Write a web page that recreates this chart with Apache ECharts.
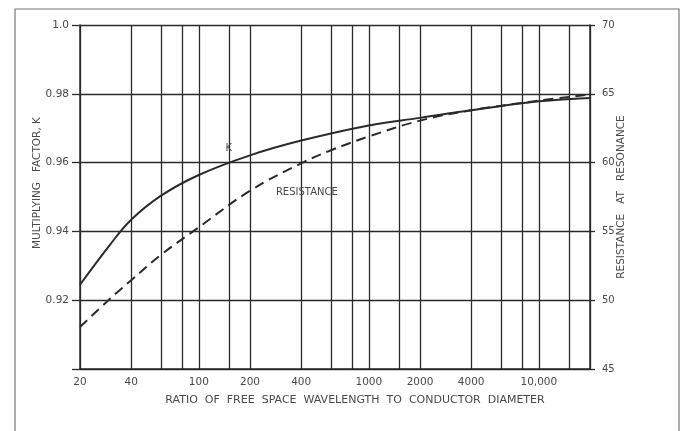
<!DOCTYPE html>
<html>
<head>
<meta charset="utf-8">
<script src="https://cdn.jsdelivr.net/npm/echarts@6/dist/echarts.min.js"></script>
<style>
  html, body { margin: 0; padding: 0; background: #fff; }
  #chart { width: 685px; height: 431px; }
</style>
</head>
<body>
<div id="chart"></div>
<script>
// ratio of free space wavelength to conductor diameter
const kRatios = [20, 30, 40, 60, 100, 200, 400, 1000, 2000, 4000, 10000, 20000]
// multiplying factor K (left axis)
const kValues = [0.9245, 0.9361, 0.9434, 0.9504, 0.9564, 0.9621, 0.9664, 0.9708, 0.9730, 0.9752, 0.9778, 0.9788]
// resistance at resonance (right axis)
const resRatios = [20, 30, 40, 60, 100, 200, 400, 600, 1000, 2000, 4000, 10000, 20000]
const resValues = [48.05, 50.1, 51.45, 53.3, 55.3, 57.95, 59.95, 60.9, 61.9, 63.05, 63.8, 64.5, 64.95]

const gridXValues = [20, 40, 60, 80, 100, 150, 200, 400, 600, 800, 1000, 1500, 2000, 4000, 6000, 8000, 10000, 15000, 20000]
const xLabelValues = [20, 40, 100, 200, 400, 1000, 2000, 4000, 10000]

const ink = '#2a2a2a'
const textColor = '#4a4a4a'
const font = 'DejaVu Sans'

const chart = echarts.init(document.getElementById('chart'), null, { renderer: 'canvas' })

// invisible point that only carries a text label
function textMark(coord, text) {
  return {
    symbol: 'circle',
    symbolSize: 1,
    itemStyle: { color: 'rgba(0,0,0,0)' },
    label: { show: true, position: 'inside', formatter: text, color: textColor, fontSize: 10 },
    data: [{ coord: coord }]
  }
}

chart.setOption({
  backgroundColor: '#fff',
  animation: false,
  textStyle: { fontFamily: font },
  graphic: [{
    type: 'rect',
    shape: { x: 15, y: 9, width: 664, height: 440 },
    style: { fill: 'none', stroke: '#777', lineWidth: 1.2 },
    silent: true
  }],
  grid: {
    left: 80,
    right: 95,
    top: 25,
    bottom: 62
  },
  xAxis: {
    type: 'log',
    logBase: 10,
    min: 20,
    max: 20000,
    name: 'RATIO  OF  FREE  SPACE  WAVELENGTH  TO  CONDUCTOR  DIAMETER',
    nameLocation: 'middle',
    nameGap: 26,
    nameTextStyle: {
      color: textColor,
      fontSize: 11,
      padding: [0, 0, 0, 40]
    },
    axisLine: { show: true, lineStyle: { color: ink, width: 1.5 } },
    axisTick: { show: false, customValues: gridXValues },
    axisLabel: {
      customValues: xLabelValues,
      color: textColor,
      fontSize: 10.5,
      margin: 8,
      formatter: function(v) {
        return v >= 10000 ? '10,000' : String(v)
      }
    },
    splitLine: { show: true, lineStyle: { color: ink, width: 1.3 } },
    minorTick: { show: false },
    minorSplitLine: { show: false }
  },
  yAxis: [
    {
      type: 'value',
      min: 0.90,
      max: 1.0,
      interval: 0.02,
      name: 'MULTIPLYING   FACTOR, K',
      nameLocation: 'middle',
      nameMoveOverlap: false,
      nameGap: 37,
      nameTextStyle: { color: textColor, fontSize: 10.5, padding: [0, 0, 0, 28] },
      axisLine: { show: true, lineStyle: { color: ink, width: 1.5 } },
      axisTick: { show: true, inside: false, length: 8, lineStyle: { color: ink, width: 1.3 } },
      axisLabel: {
        color: textColor,
        fontSize: 10.5,
        margin: 11,
        formatter: function(v) {
          if (v < 0.91) return ''
          if (v > 0.999) return '1.0'
          return v.toFixed(2)
        }
      },
      splitLine: { show: true, lineStyle: { color: ink, width: 1.3 } }
    },
    {
      type: 'value',
      min: 45,
      max: 70,
      interval: 5,
      position: 'right',
      name: 'RESISTANCE   AT   RESONANCE',
      nameLocation: 'middle',
      nameMoveOverlap: false,
      nameRotate: 90,
      nameGap: 26,
      nameTextStyle: { color: textColor, fontSize: 10.5 },
      axisLine: { show: true, lineStyle: { color: ink, width: 1.5 } },
      axisTick: { show: true, inside: false, length: 5, lineStyle: { color: ink, width: 1.3 } },
      axisLabel: { color: textColor, fontSize: 10, margin: 12 },
      splitLine: { show: false }
    }
  ],
  series: [
    {
      name: 'K',
      type: 'line',
      yAxisIndex: 0,
      smooth: 0.4,
      symbol: 'none',
      lineStyle: { color: ink, width: 2 },
      data: kRatios.map((r, i) => [r, kValues[i]]),
      markPoint: textMark([150, 0.9642], 'K')
    },
    {
      name: 'RESISTANCE',
      type: 'line',
      yAxisIndex: 1,
      smooth: 0.4,
      symbol: 'none',
      lineStyle: { color: ink, width: 2, type: [10, 6] },
      data: resRatios.map((r, i) => [r, resValues[i]]),
      markPoint: textMark([432, 57.8], 'RESISTANCE')
    }
  ]
})
</script>
</body>
</html>
